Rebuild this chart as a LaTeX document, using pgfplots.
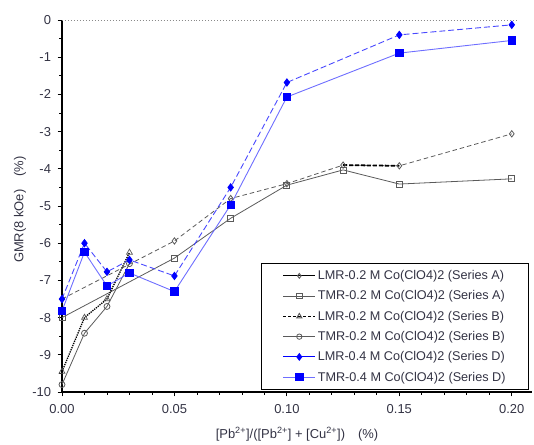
\documentclass[border=0pt]{standalone}
\usepackage{fontspec}
\setmainfont{Liberation Sans}
\usepackage{pgfplots}
\pgfplotsset{compat=1.18}
\definecolor{ticktext}{HTML}{333344}
\definecolor{grayA}{HTML}{5A5A5A}
\definecolor{grayB}{HTML}{8A8A8A}
\definecolor{blueD}{HTML}{0000FF}
\definecolor{blueM}{HTML}{4848FF}
\definecolor{blueL}{HTML}{6E6EFF}

\begin{document}
\begin{tikzpicture}
\begin{axis}[
    scale only axis,
    width=470bp,
    height=372bp,
    xmin=0, xmax=0.209,
    ymin=-10, ymax=0,
    clip=false,
    axis x line=bottom,
    axis y line=left,
    axis line style={-, line width=1.2pt},
    xtick={0,0.05,0.1,0.15,0.2},
    minor x tick num=4,
    ytick={-10,-9,-8,-7,-6,-5,-4,-3,-2,-1,0},
    minor y tick num=1,
    tick align=outside,
    major tick length=4.5pt,
    minor tick length=3pt,
    tick style={black, line width=0.8pt},
    /pgf/number format/assume math mode=true,
    xticklabel style={yshift=-4bp, /pgf/number format/.cd, fixed, fixed zerofill, precision=2},
    ticklabel style={font=\fontsize{13}{15}\selectfont, text=ticktext},
    yticklabel style={xshift=-3bp},
    xlabel={[Pb\textsuperscript{2+}]/([Pb\textsuperscript{2+}] + [Cu\textsuperscript{2+}])\quad(\%)},
    ylabel={GMR(8 kOe)\quad(\%)},
    label style={font=\fontsize{13}{15}\selectfont, text=ticktext},
    xlabel style={at={(axis description cs:0.5,-0.113)}, anchor=center},
    ylabel style={at={(axis description cs:-0.0894,0.49)}, anchor=center},
    legend style={
        at={(1,0)}, anchor=south east, xshift=-3bp, yshift=2bp,
        draw=black, line width=1pt,
        font=\fontsize{12.7}{14}\selectfont,
        text=ticktext,
        row sep=3.6bp,
        inner xsep=21bp, inner ysep=4bp,
        nodes={inner ysep=3bp},
        cells={anchor=west},
    },
    legend image code/.code={
        \draw[mark repeat=2, mark phase=2] plot coordinates {(0bp,0bp) (16bp,0bp) (32bp,0bp)};
    },
]

% bounding box to the reference's margins
\path (rel axis cs:0,0) ++(-62bp,-52bp);
\path (rel axis cs:1,1) ++(2bp,20bp);

% zero reference line
\addplot[grayB, dotted, line width=1pt, forget plot] coordinates {(0,0) (0.203,0)};

% LMR A (gray dashed, open diamonds)
\addplot[grayA, dash pattern=on 4.5pt off 3pt, line width=0.8pt, mark=diamond, mark size=3.2pt, mark options={solid, fill=white}, forget plot] coordinates {
    (0,-7.5) (0.05,-5.94) (0.075,-4.8) (0.1,-4.4) (0.125,-3.9) (0.15,-3.92) (0.2,-3.06)
};
% heavy dashed segment
\addplot[black, dash pattern=on 4pt off 2pt, line width=1.8pt, forget plot] coordinates {(0.125,-3.9) (0.15,-3.92)};

% TMR A (gray solid, open squares)
\addplot[grayA, line width=0.8pt, mark=square, mark size=3pt, mark options={fill=white}, forget plot] coordinates {
    (0,-8.0) (0.05,-6.4) (0.075,-5.33) (0.1,-4.44) (0.125,-4.03) (0.15,-4.41) (0.2,-4.27)
};

% TMR B (gray solid, open circles)
\addplot[grayA, line width=0.8pt, mark=o, mark size=3pt, mark options={fill=white}, forget plot] coordinates {
    (0,-9.8) (0.01,-8.42) (0.02,-7.7) (0.03,-6.55)
};

% LMR B (black dotted, open triangles)
\addplot[black, densely dotted, line width=1.3pt, mark=triangle, mark size=3.4pt, mark options={solid, grayA, line width=0.7pt, fill=white}, forget plot] coordinates {
    (0,-9.45) (0.01,-8.0) (0.02,-7.5) (0.03,-6.25)
};

% LMR D (blue dashed, filled diamonds)
\addplot[blueM, dash pattern=on 6pt off 3pt, line width=0.9pt, mark=diamond*, mark size=3.6pt, mark options={solid, blueD}, forget plot] coordinates {
    (0,-7.5) (0.01,-6.0) (0.02,-6.77) (0.03,-6.45) (0.05,-6.88) (0.075,-4.5) (0.1,-1.68) (0.15,-0.4) (0.2,-0.13)
};

% TMR D (light blue solid, filled squares)
\addplot[blueL, line width=0.9pt, mark=square*, mark size=3.7pt, mark options={blueD}, forget plot] coordinates {
    (0,-7.82) (0.01,-6.24) (0.02,-7.15) (0.03,-6.8) (0.05,-7.3) (0.075,-4.97) (0.1,-2.07) (0.15,-0.89) (0.2,-0.55)
};

% legend
\addlegendimage{black, line width=0.9pt, mark=diamond, mark size=2.4pt, mark options={grayA, fill=white}}
\addlegendentry{LMR-0.2 M Co(ClO4)2 (Series A)}
\addlegendimage{grayA, line width=0.8pt, mark=square, mark size=2.7pt, mark options={fill=white}}
\addlegendentry{TMR-0.2 M Co(ClO4)2 (Series A)}
\addlegendimage{black, densely dashed, line width=0.9pt, mark=triangle, mark size=3pt, mark options={solid, grayA, fill=white}}
\addlegendentry{LMR-0.2 M Co(ClO4)2 (Series B)}
\addlegendimage{grayA, line width=0.8pt, mark=o, mark size=2.7pt, mark options={fill=white}}
\addlegendentry{TMR-0.2 M Co(ClO4)2 (Series B)}
\addlegendimage{blueD, line width=1pt, mark=diamond*, mark size=3.2pt, mark options={blueD}}
\addlegendentry{LMR-0.4 M Co(ClO4)2 (Series D)}
\addlegendimage{blueL, line width=0.9pt, mark=square*, mark size=3.7pt, mark options={blueD}}
\addlegendentry{TMR-0.4 M Co(ClO4)2 (Series D)}

\end{axis}
\end{tikzpicture}
\end{document}
